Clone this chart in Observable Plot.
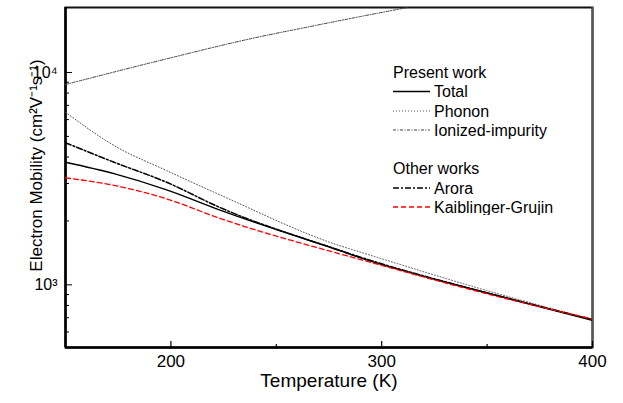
<!DOCTYPE html>
<html>
<head>
<meta charset="utf-8">
<script src="https://cdn.jsdelivr.net/npm/d3@7"></script>
<script src="https://cdn.jsdelivr.net/npm/@observablehq/plot@0.6"></script>
<style>
  body { margin: 0; background: #fff; }
  #wrap { position: relative; width: 623px; height: 403px; font-family: "Liberation Sans", Arial, sans-serif; }
  #legend { position: absolute; pointer-events: none; }
</style>
</head>
<body>
<div id="wrap"></div>
<script>
// ---- data ----
const totalT = [150, 173, 198, 223, 280, 290, 347, 400];
const totalMu = [3780, 3340, 2800, 2255, 1450, 1340, 933, 680];

const phononT = [150, 173, 198, 223, 280, 290, 347, 400];
const phononMu = [6500, 4530, 3450, 2660, 1530, 1425, 958, 687];

const ionizedT = [150, 195, 242, 261, 290, 312];
const ionizedMu = [8780, 11400, 14720, 16080, 18350, 20200];

const aroraT = [150, 173, 198, 223, 280, 290, 347, 400];
const aroraMu = [4670, 3780, 3040, 2320, 1455, 1349, 933, 687];

const kgT = [150, 173, 198, 223, 280, 290, 347, 400];
const kgMu = [3190, 2940, 2540, 2060, 1400, 1315, 923, 690];

const seriesNames = ["Total", "Phonon", "Ionized-impurity", "Arora", "Kaiblinger-Grujin"];
const legendGroups = ["Present work", "Other works"];

const xMajorTicks = [200, 300, 400];
const xMinorTicks = [250, 350];
const yMajorTicks = [1000, 10000];
const yMajorLabels = ["10³", "10⁴"];
const yMinorTicks = [600, 700, 800, 900, 2000, 3000, 4000, 5000, 6000, 7000, 8000, 9000];

const xLabel = "Temperature (K)";
const yLabel = "Electron Mobility (cm²V⁻¹s⁻¹)";

// ---- styles ----
const styles = {
  "Total": {stroke: "#000", strokeWidth: 1.5, dash: null},
  "Phonon": {stroke: "#555", strokeWidth: 1, dash: "1,2"},
  "Ionized-impurity": {stroke: "#444", strokeWidth: 1, dash: "3,1.5,1,1.5"},
  "Arora": {stroke: "#000", strokeWidth: 1.5, dash: "6,2,2,2"},
  "Kaiblinger-Grujin": {stroke: "#ff0000", strokeWidth: 1.3, dash: "5,3"}
};

const mk = (T, M) => T.map((t, i) => ({T: t, mu: M[i]}));
const series = {
  "Total": mk(totalT, totalMu),
  "Phonon": mk(phononT, phononMu),
  "Ionized-impurity": mk(ionizedT, ionizedMu),
  "Arora": mk(aroraT, aroraMu),
  "Kaiblinger-Grujin": mk(kgT, kgMu)
};

const W = 623, H = 403;
const mL = 65, mR = 31, mT = 7, mB = 56;
const pw = W - mL - mR, ph = H - mT - mB;
const yDom = [507, 20230];
const font = "Liberation Sans, Arial, sans-serif";

const lineMarks = seriesNames.map(n => Plot.line(series[n], {
  x: "T", y: "mu", curve: "monotone-x", clip: true,
  stroke: styles[n].stroke, strokeWidth: styles[n].strokeWidth,
  strokeDasharray: styles[n].dash
}));

const chart = Plot.plot({
  width: W, height: H,
  marginLeft: mL, marginRight: mR, marginTop: mT, marginBottom: mB,
  style: {fontFamily: font, color: "#000", background: "#fff"},
  x: {domain: [150, 400]},
  y: {type: "log", domain: yDom},
  marks: [
    Plot.frame({stroke: "#111", strokeWidth: 2}),
    Plot.ruleX([400], {stroke: "#555", strokeWidth: 2}),
    Plot.ruleX([150], {stroke: "#000", strokeWidth: 2.5}),
    Plot.ruleY([yDom[0]], {stroke: "#000", strokeWidth: 2.5}),
    Plot.ruleX(xMajorTicks, {x: d => d, insetTop: ph - 6, stroke: "#000", strokeWidth: 1.2}),
    Plot.ruleX(xMinorTicks, {x: d => d, insetTop: ph - 3, stroke: "#000", strokeWidth: 1.2}),
    ...lineMarks,
    Plot.ruleY(yMajorTicks, {y: d => d, insetRight: pw - 7, stroke: "#000", strokeWidth: 1}),
    Plot.ruleY(yMinorTicks, {y: d => d, insetRight: pw - 4, stroke: "#000", strokeWidth: 1}),
    Plot.axisX({ticks: xMajorTicks, tickSize: 0, tickPadding: 7, fontSize: 17, label: null, tickFormat: d => String(d)}),
    Plot.axisY({ticks: yMajorTicks, tickSize: 0, tickPadding: 8, fontSize: 16, label: null,
      tickFormat: d => yMajorLabels[yMajorTicks.indexOf(d)]}),
    Plot.text([xLabel], {text: d => d, frameAnchor: "bottom", dy: 39, fontSize: 19, fill: "#000"}),
    Plot.text([yLabel], {text: d => d, frameAnchor: "left", textAnchor: "middle", rotate: -90, dx: -29, dy: -12, fontSize: 17, fill: "#000"})
  ]
});

const wrap = document.getElementById("wrap");
wrap.appendChild(chart);

// ---- legend overlay ----
const ns = "http://www.w3.org/2000/svg";
const lg = document.createElementNS(ns, "svg");
lg.setAttribute("id", "legend");
lg.setAttribute("width", 190);
lg.setAttribute("height", 160);
lg.setAttribute("viewBox", "385 55 190 160");
lg.style.left = "385px";
lg.style.top = "55px";
const legendRows = [
  {type: "head", text: legendGroups[0], y: 72},
  {type: "item", name: seriesNames[0], y: 91.5},
  {type: "item", name: seriesNames[1], y: 111},
  {type: "item", name: seriesNames[2], y: 130},
  {type: "head", text: legendGroups[1], y: 168},
  {type: "item", name: seriesNames[3], y: 188},
  {type: "item", name: seriesNames[4], y: 207}
];
const lx = 393, lineEnd = 430, tx = 434;
for (const r of legendRows) {
  const t = document.createElementNS(ns, "text");
  t.setAttribute("font-family", font);
  t.setAttribute("font-size", "16");
  t.setAttribute("dominant-baseline", "central");
  t.setAttribute("fill", "#000");
  if (r.type === "head") {
    t.setAttribute("x", lx);
    t.setAttribute("y", r.y);
    t.textContent = r.text;
  } else {
    const s = styles[r.name];
    const l = document.createElementNS(ns, "line");
    l.setAttribute("x1", lx); l.setAttribute("x2", lineEnd);
    l.setAttribute("y1", r.y); l.setAttribute("y2", r.y);
    l.setAttribute("stroke", s.stroke);
    l.setAttribute("stroke-width", s.strokeWidth);
    if (s.dash) l.setAttribute("stroke-dasharray", s.dash);
    lg.appendChild(l);
    t.setAttribute("x", tx);
    t.setAttribute("y", r.y);
    t.textContent = r.name;
  }
  lg.appendChild(t);
}
wrap.appendChild(lg);
</script>
</body>
</html>
